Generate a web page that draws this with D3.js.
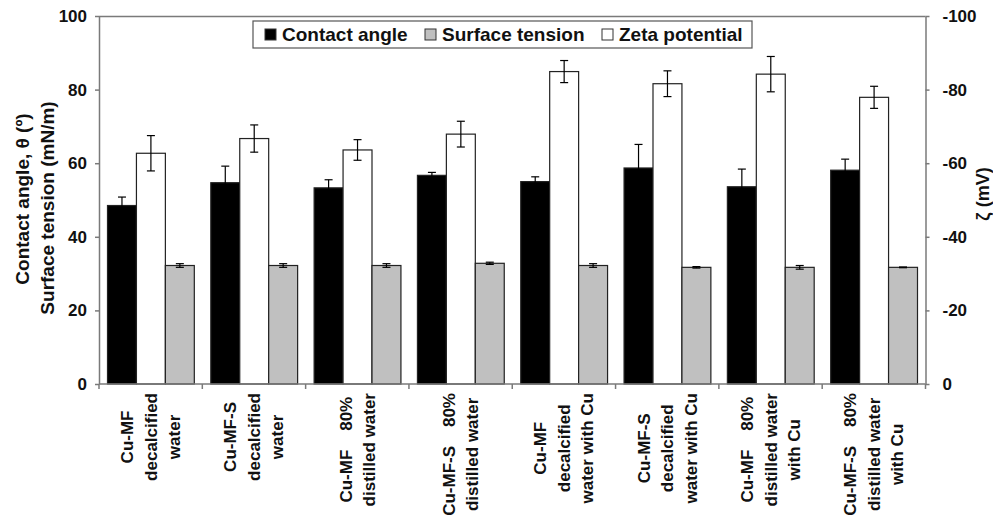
<!DOCTYPE html>
<html>
<head>
<meta charset="utf-8">
<title>Contact angle / surface tension / zeta potential</title>
<script src="https://cdn.jsdelivr.net/npm/d3@7/dist/d3.min.js"></script>
<style>
html, body { margin: 0; padding: 0; background: #fff; }
svg { display: block; font-family: Arial, "Liberation Sans", sans-serif; font-weight: bold; }
</style>
</head>
<body>
<div id="chart"></div>
<script>
// category labels (one line per entry)
const categories = [
    ["Cu-MF", "decalcified", "water"],
    ["Cu-MF-S", "decalcified", "water"],
    ["Cu-MF    80%", "distilled water"],
    ["Cu-MF-S    80%", "distilled water"],
    ["Cu-MF", "decalcified", "water with Cu"],
    ["Cu-MF-S", "decalcified", "water with Cu"],
    ["Cu-MF    80%", "distilled water", "with Cu"],
    ["Cu-MF-S    80%", "distilled water", "with Cu"]
];

// series values
const contactAngle    = [48.5, 54.7, 53.3, 56.7, 55.0, 58.7, 53.6, 58.1];
const contactAngleErr = [2.3, 4.5, 2.2, 0.8, 1.3, 6.4, 4.8, 3.0];
const surfaceTension    = [32.2, 32.2, 32.2, 32.8, 32.2, 31.7, 31.7, 31.7];
const surfaceTensionErr = [0.5, 0.5, 0.5, 0.3, 0.5, 0.2, 0.5, 0.1];
const zeta    = [-62.7, -66.7, -63.6, -67.9, -84.9, -81.6, -84.2, -77.9];
const zetaErr = [4.8, 3.7, 2.8, 3.5, 3.0, 3.5, 4.8, 3.0];

// tick labels
const leftTicks  = [0, 20, 40, 60, 80, 100];
const rightTicks = [0, -20, -40, -60, -80, -100];

const seriesNames = ["Contact angle", "Zeta potential", "Surface tension"];
const legendOrder = ["Contact angle", "Surface tension", "Zeta potential"];
const fills = { "Contact angle": "#000", "Surface tension": "#c0c0c0", "Zeta potential": "#fff" };

const W = 993, H = 521;
const pLeft = 99, pRight = 925.5, pTop = 16, pBottom = 384;
const axisColor = "#7a7a7a";

const svg = d3.select("#chart").append("svg").attr("width", W).attr("height", H);

const keys = categories.map(function(c, i) { return "c" + i; });
const x = d3.scaleBand().domain(keys).range([pLeft, pRight]);
const xs = d3.scaleBand().domain(seriesNames).range([8.5, x.bandwidth() - 8]);
const yL = d3.scaleLinear().domain([0, 100]).range([pBottom, pTop]);
const yR = d3.scaleLinear().domain([0, -100]).range([pBottom, pTop]);

// build rows for each series
const rows = [];
keys.forEach(function(k, i) {
    rows.push({ k: k, s: "Contact angle", v: contactAngle[i], e: contactAngleErr[i], y: yL });
    rows.push({ k: k, s: "Zeta potential", v: zeta[i], e: zetaErr[i], y: yR });
    rows.push({ k: k, s: "Surface tension", v: surfaceTension[i], e: surfaceTensionErr[i], y: yL });
});

// top frame line
svg.append("line").attr("x1", pLeft).attr("x2", pRight).attr("y1", pTop + 0.5).attr("y2", pTop + 0.5)
    .attr("stroke", axisColor).attr("stroke-width", 1.5);

// bars
svg.append("g").selectAll("rect").data(rows).enter().append("rect")
    .attr("x", function(d) { return x(d.k) + xs(d.s); })
    .attr("width", xs.bandwidth())
    .attr("y", function(d) { return d.y(d.v); })
    .attr("height", function(d) { return pBottom - d.y(d.v); })
    .attr("fill", function(d) { return fills[d.s]; })
    .attr("stroke", "#222").attr("stroke-width", 1.2);

// error bars
const eb = svg.append("g").attr("stroke", "#000").attr("stroke-width", 1.2);
rows.forEach(function(d) {
    const cx = x(d.k) + xs(d.s) + xs.bandwidth() / 2;
    const sign = d.v < 0 ? -1 : 1;
    const y1 = d.y(d.v + sign * d.e), y2 = d.y(d.v - sign * d.e);
    eb.append("line").attr("x1", cx).attr("x2", cx).attr("y1", y1).attr("y2", y2);
    eb.append("line").attr("x1", cx - 4).attr("x2", cx + 4).attr("y1", y1).attr("y2", y1);
    eb.append("line").attr("x1", cx - 4).attr("x2", cx + 4).attr("y1", y2).attr("y2", y2);
});

// left axis
const gL = svg.append("g").attr("transform", "translate(" + pLeft + ",0)");
gL.call(d3.axisLeft(yL).tickValues(d3.range(0, 101, 5)).tickFormat("").tickSize(4).tickSizeOuter(0));
gL.call(d3.axisLeft(yL).tickValues(leftTicks).tickSize(4).tickPadding(8).tickSizeOuter(0));

// right axis
const gR = svg.append("g").attr("transform", "translate(" + pRight + ",0)");
gR.call(d3.axisRight(yR).tickValues(d3.range(0, -101, -5)).tickFormat("").tickSize(4).tickSizeOuter(0));
gR.call(d3.axisRight(yR).tickValues(rightTicks).tickSize(4).tickPadding(13).tickSizeOuter(0)
    .tickFormat(function(d) { return d === 0 ? "0" : "-" + Math.abs(d); }));

svg.selectAll(".domain, .tick line").attr("stroke", axisColor).attr("stroke-width", 1.5);
svg.selectAll(".tick text").attr("font-size", 17).attr("font-family", "Arial, 'Liberation Sans', sans-serif")
    .attr("font-weight", "bold").attr("fill", "#111");

// bottom axis with ticks at group boundaries
const bx = keys.map(function(k) { return x(k); }).concat([pRight]);
svg.append("line").attr("x1", pLeft).attr("x2", pRight).attr("y1", pBottom).attr("y2", pBottom)
    .attr("stroke", axisColor).attr("stroke-width", 1.5);
svg.append("g").selectAll("line").data(bx).enter().append("line")
    .attr("x1", function(d) { return d; }).attr("x2", function(d) { return d; })
    .attr("y1", pBottom).attr("y2", pBottom + 5)
    .attr("stroke", axisColor).attr("stroke-width", 1.5);

// category labels, rotated
keys.forEach(function(k, i) {
    const lines = categories[i];
    const g = svg.append("g")
        .attr("transform", "translate(" + (x(k) + x.bandwidth() / 2) + ",393) rotate(-90)");
    const t = g.selectAll("text").data(lines).enter().append("text")
        .attr("xml:space", "preserve").style("white-space", "pre")
        .attr("font-size", 17).attr("text-anchor", "middle").attr("fill", "#111")
        .attr("y", function(d, j) { return (j - (lines.length - 1) / 2) * 23.5 + 6; })
        .text(function(d) { return d; });
    let maxLen = 0;
    t.each(function() { maxLen = Math.max(maxLen, this.getComputedTextLength()); });
    t.attr("x", -maxLen / 2);
});

// axis titles
svg.append("text").attr("transform", "translate(29,199) rotate(-90)")
    .attr("text-anchor", "middle").attr("font-size", 19).attr("fill", "#111")
    .text("Contact angle, \u03b8 (\u00ba)");
svg.append("text").attr("transform", "translate(54,208) rotate(-90)")
    .attr("text-anchor", "middle").attr("font-size", 19).attr("fill", "#111")
    .text("Surface tension (mN/m)");
svg.append("text").attr("transform", "translate(989,194) rotate(-90)")
    .attr("text-anchor", "middle").attr("font-size", 18).attr("fill", "#111")
    .text("\u03b6 (mV)");

// legend
const lg = svg.append("g");
lg.append("rect").attr("x", 253).attr("y", 21).attr("width", 499).attr("height", 27)
    .attr("fill", "#fff").attr("stroke", "#555").attr("stroke-width", 1.2);
const legX = [265, 425, 602];
legendOrder.forEach(function(s, i) {
    lg.append("rect").attr("x", legX[i]).attr("y", 29).attr("width", 11).attr("height", 11)
        .attr("fill", fills[s]).attr("stroke", "#333").attr("stroke-width", 1);
    lg.append("text").attr("x", legX[i] + 17).attr("y", 41).attr("font-size", 19).attr("fill", "#111").text(s);
});
</script>
</body>
</html>
